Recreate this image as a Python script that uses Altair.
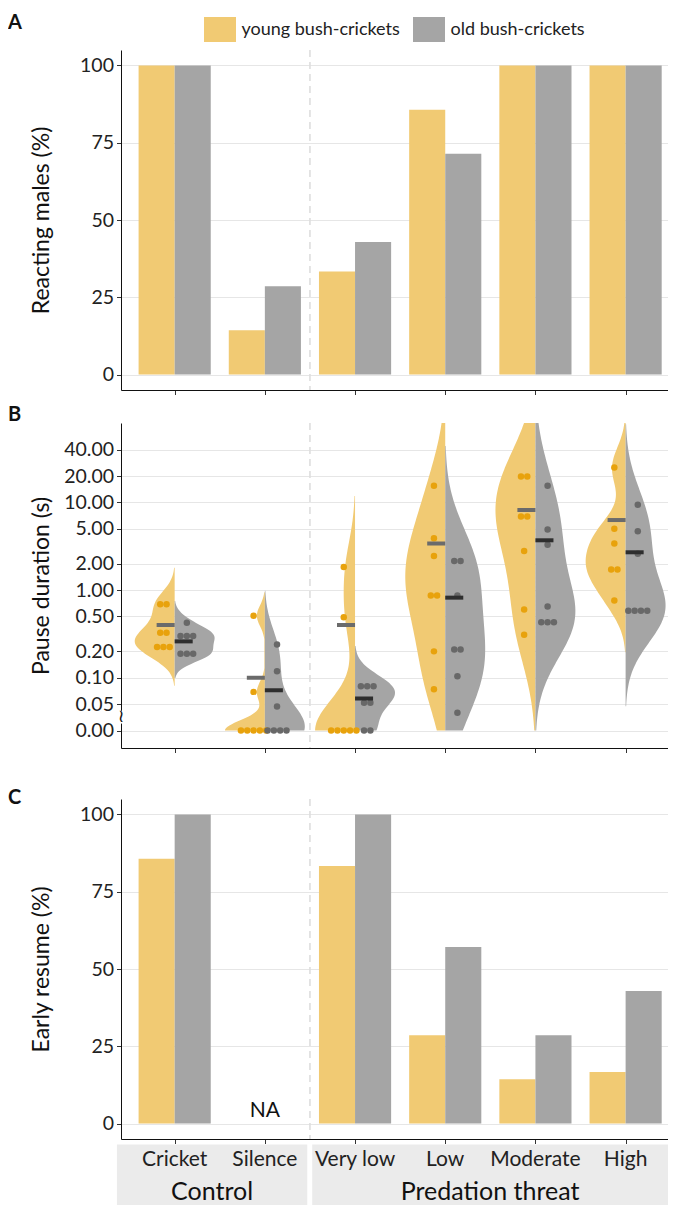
import math
import altair as alt
import pandas as pd

FONT = "Lato"

# ---------------- data ----------------
categories = ["Cricket", "Silence", "Very low", "Low", "Moderate", "High"]
age_keys = ["young", "old"]
age_labels = ["young bush-crickets", "old bush-crickets"]

reacting_young = [100, 14.3, 33.3, 85.7, 100, 100]
reacting_old = [100, 28.6, 42.9, 71.4, 100, 100]

resume_young = [85.7, None, 83.3, 28.6, 14.3, 16.7]
resume_old = [100, None, 100, 57.1, 28.6, 42.9]

pause_young = [
    [0.69, 0.69, 0.327, 0.327, 0.224, 0.224, 0.224],  # Cricket
    [0, 0, 0, 0, 0, 0.069, 0.51],                    # Silence
    [0, 0, 0, 0, 0, 0.49, 1.83],                     # Very low
    [15.5, 3.9, 2.45, 0.87, 0.87, 0.20, 0.074],      # Low
    [19.8, 19.8, 6.9, 6.9, 2.8, 0.60, 0.31],         # Moderate
    [25.0, 5.0, 3.4, 1.72, 1.72, 0.76],              # High
]
pause_old = [
    [0.425, 0.30, 0.30, 0.30, 0.188, 0.188, 0.188],
    [0, 0, 0, 0, 0.047, 0.119, 0.24],
    [0, 0, 0.052, 0.052, 0.080, 0.080, 0.080],
    [2.15, 2.15, 0.87, 0.21, 0.21, 0.104, 0.040],
    [15.5, 4.9, 3.3, 0.65, 0.43, 0.43, 0.43],
    [9.4, 4.7, 2.6, 0.58, 0.58, 0.58, 0.58],
]
mean_young = [0.40, 0.10, 0.40, 3.4, 8.2, 6.3]
mean_old = [0.26, 0.072, 0.058, 0.82, 3.7, 2.7]

groups = ["Control", "Predation threat"]
group_first = [1, 3]
group_last = [2, 6]

pause_ticks = [0.025, 0.05, 0.1, 0.2, 0.5, 1, 2, 5, 10, 20, 40]
ZERO_AT = 0.025      # zero values sit at this position on the broken log axis
BREAK_AT = [0.030, 0.042]  # axis break between 0.00 and 0.05

# ---------------- styling ----------------
YF, OF = "#F1CA73", "#A5A5A5"
YD, OD = "#E8A20C", "#686868"
YM, OM = "#6B6B6B", "#2E2E2E"

W = 547
HA, HB, HC = 340, 325, 340
xs = alt.Scale(domain=[0.405, 6.47], nice=False, zero=False)
xaxis = alt.Axis(values=[1, 2, 3, 4, 5, 6], labels=False, grid=False, title=None,
                 tickSize=4.5, domainColor="#111", tickColor="#333")

# ---------------- tables ----------------
bar_rows = []
for i, c in enumerate(categories):
    bar_rows.append(dict(cat=c, pos=i + 1, k="young", age=age_labels[0],
                         reacting=reacting_young[i], resume=resume_young[i]))
    bar_rows.append(dict(cat=c, pos=i + 1, k="old", age=age_labels[1],
                         reacting=reacting_old[i], resume=resume_old[i]))
bars_df = pd.DataFrame(bar_rows)

pause_rows = []
for i, c in enumerate(categories):
    for k, vals in (("young", pause_young[i]), ("old", pause_old[i])):
        for v in vals:
            pause_rows.append(dict(cat=c, pos=i + 1, k=k, v=v))
pause_df = pd.DataFrame(pause_rows)

mean_rows = []
for i, c in enumerate(categories):
    mean_rows.append(dict(cat=c, pos=i + 1, k="young", m=mean_young[i]))
    mean_rows.append(dict(cat=c, pos=i + 1, k="old", m=mean_old[i]))
means_df = pd.DataFrame(mean_rows)

na_df = pd.DataFrame([dict(cat=c, pos=i + 1, t="NA") for i, c in enumerate(categories)
                      if resume_young[i] is None and resume_old[i] is None])
cat_df = pd.DataFrame(dict(cat=categories, pos=list(range(1, len(categories) + 1))))
strip_df = pd.DataFrame(dict(g=groups, first=group_first, last=group_last))
div_df = pd.DataFrame(dict(b=[group_last[0] + 0.5]))
break_df = pd.DataFrame(dict(lo=[BREAK_AT[0]], hi=[BREAK_AT[1]],
                             mid=[math.sqrt(BREAK_AT[0] * BREAK_AT[1])], t=["\u2240"]))

bar_x = dict(xl="datum.pos + (datum.k == 'young' ? -0.4 : 0)", xr="datum.xl + 0.4")
col_fill = "datum.k == 'young' ? '" + YF + "' : '" + OF + "'"


def divider():
    return alt.Chart(div_df).mark_rule(strokeDash=[7, 5], color="#DEDEDE", strokeWidth=1.6).encode(
        x=alt.X("b:Q", scale=xs, axis=xaxis))


def letter(t, dy):
    return alt.Chart(pd.DataFrame(dict(t=[t]))).mark_text(
        font=FONT, fontSize=20, fontWeight="bold", align="left", baseline="middle", color="#111"
    ).encode(x=alt.value(-113), y=alt.value(dy), text="t:N")


def spacer(top):
    return alt.Chart(pd.DataFrame(dict(s=[0]))).mark_rect(opacity=0).encode(
        x=alt.value(0), x2=alt.value(1), y=alt.value(-top), y2=alt.value(0))


def yaxis(title, **kw):
    return alt.Axis(title=title, titleX=-68, grid=True, **kw)


# ---------------- panel A ----------------
legend = alt.Legend(orient="none", legendX=86.5, legendY=-33, direction="horizontal", title=None,
                    symbolType="M-1.28,-1L1.28,-1L1.28,1L-1.28,1Z", symbolSize=625,
                    symbolStrokeWidth=0, labelFont=FONT, labelFontSize=18, labelColor="#222",
                    labelOffset=9, columnPadding=12, padding=0, symbolOpacity=1)
barsA = alt.Chart(bars_df).transform_calculate(**bar_x).mark_bar().encode(
    x=alt.X("xl:Q", scale=xs, axis=xaxis),
    x2="xr:Q",
    y=alt.Y("reacting:Q", scale=alt.Scale(domain=[-5, 105], nice=False, zero=False),
            axis=yaxis("Reacting males (%)", values=[0, 25, 50, 75, 100])),
    y2=alt.datum(0),
    color=alt.Color("age:N", scale=alt.Scale(domain=age_labels, range=[YF, OF]), legend=legend),
)
panelA = alt.layer(divider(), barsA, letter("A", -27)).properties(width=W, height=HA)

# ---------------- panel B ----------------
ysB = alt.Scale(type="log", domain=[0.0158, 80.6], nice=False)
yaxisB = yaxis("Pause duration (s)", values=pause_ticks,
               labelExpr="datum.value < 0.03 ? '0.00' : format(datum.value, '.2f')")
pbase = alt.Chart(pause_df).transform_calculate(
    vp="max(datum.v, %g)" % ZERO_AT, lv="log(max(datum.v, %g)) / LN10" % ZERO_AT)

violins = pbase.transform_density(
    "lv", groupby=["cat", "pos", "k"], extent=[math.log10(ZERO_AT), math.log10(80.6)],
    steps=240, as_=["lv", "dens"]
).transform_joinaggregate(mx="max(dens)", groupby=["cat", "k"]).transform_calculate(
    rel="datum.dens / datum.mx",
    w="datum.dens / datum.mx * 0.443",
    yv="pow(10, datum.lv)",
    xl="datum.k == 'young' ? datum.pos - datum.w : datum.pos",
    xr="datum.k == 'young' ? datum.pos : datum.pos + datum.w",
    fc=col_fill,
).transform_filter("datum.rel > 0.012").mark_area(orient="horizontal").encode(
    y=alt.Y("yv:Q", scale=ysB, axis=yaxisB),
    x=alt.X("xl:Q", scale=xs, axis=xaxis, stack=None),
    x2="xr:Q",
    fill=alt.Fill("fc:N", scale=None),
    detail=["cat:N", "k:N"],
)

dots = pbase.transform_window(r="row_number()", groupby=["cat", "k", "v"]).transform_joinaggregate(
    n="count()", groupby=["cat", "k", "v"]
).transform_calculate(
    xd="datum.pos + (datum.k == 'young' ? -0.125 : 0.135) + (datum.r - (datum.n + 1) / 2) * 0.07",
    dc="datum.k == 'young' ? '" + YD + "' : '" + OD + "'",
).mark_circle(size=42, opacity=1).encode(
    x=alt.X("xd:Q", scale=xs, axis=xaxis),
    y=alt.Y("vp:Q", scale=ysB, axis=yaxisB),
    color=alt.Color("dc:N", scale=None),
)

means = alt.Chart(means_df).transform_calculate(
    xl="datum.pos + (datum.k == 'young' ? -0.2 : 0)", xr="datum.xl + 0.2",
    mc="datum.k == 'young' ? '" + YM + "' : '" + OM + "'",
).mark_rule(strokeWidth=4).encode(
    x=alt.X("xl:Q", scale=xs, axis=xaxis), x2="xr:Q",
    y=alt.Y("m:Q", scale=ysB, axis=yaxisB),
    color=alt.Color("mc:N", scale=None),
)

# axis break: a small gap in the axis line with a squiggle
breakGap = alt.Chart(break_df).mark_rect(color="white").encode(
    x=alt.value(-2), x2=alt.value(2),
    y=alt.Y("lo:Q", scale=ysB, axis=yaxisB), y2="hi:Q")
breakMark = alt.Chart(break_df).mark_text(font="DejaVu Sans", fontSize=18, color="#111",
                                          baseline="middle", align="center").encode(
    x=alt.value(0), y=alt.Y("mid:Q", scale=ysB, axis=yaxisB), text="t:N")

panelB = alt.layer(divider(), violins, dots, means, breakGap, breakMark, letter("B", -8),
                   spacer(28)).properties(width=W, height=HB)

# ---------------- panel C ----------------
barsC = alt.Chart(bars_df).transform_filter("isValid(datum.resume)").transform_calculate(
    fc=col_fill, **bar_x).mark_bar().encode(
    x=alt.X("xl:Q", scale=xs, axis=xaxis),
    x2="xr:Q",
    y=alt.Y("resume:Q", scale=alt.Scale(domain=[-5, 105], nice=False, zero=False),
            axis=yaxis("Early resume (%)", values=[0, 25, 50, 75, 100])),
    y2=alt.datum(0),
    color=alt.Color("fc:N", scale=None),
)
naText = alt.Chart(na_df).mark_text(font=FONT, fontSize=21, baseline="bottom", dy=-3, color="#111").encode(
    x=alt.X("pos:Q", scale=xs, axis=xaxis), y=alt.datum(0), text="t:N")

strip_calc = dict(
    left="datum.first == 1 ? datum.first - 0.64 : datum.first - 0.475",
    right="datum.last == 6 ? 6.47 : datum.last + 0.47",
)
strips = alt.Chart(strip_df).transform_calculate(**strip_calc).mark_rect(color="#EBEBEB").encode(
    x=alt.X("left:Q", scale=xs, axis=xaxis), x2="right:Q",
    y=alt.value(HC + 5.5), y2=alt.value(HC + 66))
stripText = alt.Chart(strip_df).transform_calculate(**strip_calc).transform_calculate(
    mid="(datum.left + datum.right) / 2",
).mark_text(font=FONT, fontSize=25, baseline="middle", color="#111").encode(
    x=alt.X("mid:Q", scale=xs, axis=xaxis), y=alt.value(HC + 53), text="g:N")
catText = alt.Chart(cat_df).mark_text(font=FONT, fontSize=21, baseline="middle", color="#222").encode(
    x=alt.X("pos:Q", scale=xs, axis=xaxis), y=alt.value(HC + 21), text="cat:N")

panelC = alt.layer(divider(), barsC, naText, strips, stripText, catText, letter("C", -1),
                   spacer(45.7)).properties(width=W, height=HC)

chart = alt.vconcat(panelA, panelB, panelC, spacing=0).resolve_legend(color="independent").resolve_scale(
    color="independent"
).properties(
    padding={"left": 0, "top": 5, "right": 0, "bottom": 0}
).configure_view(stroke=None).configure_axis(
    labelFont=FONT, titleFont=FONT, labelFontSize=19.5, titleFontSize=23, labelColor="#222",
    titleColor="#111", titleFontWeight="normal", domainColor="#111", tickColor="#333",
    gridColor="#E6E6E6", tickSize=4.5, labelPadding=3,
)

chart.save("out.html", embed_options={"renderer": "svg", "actions": False})
